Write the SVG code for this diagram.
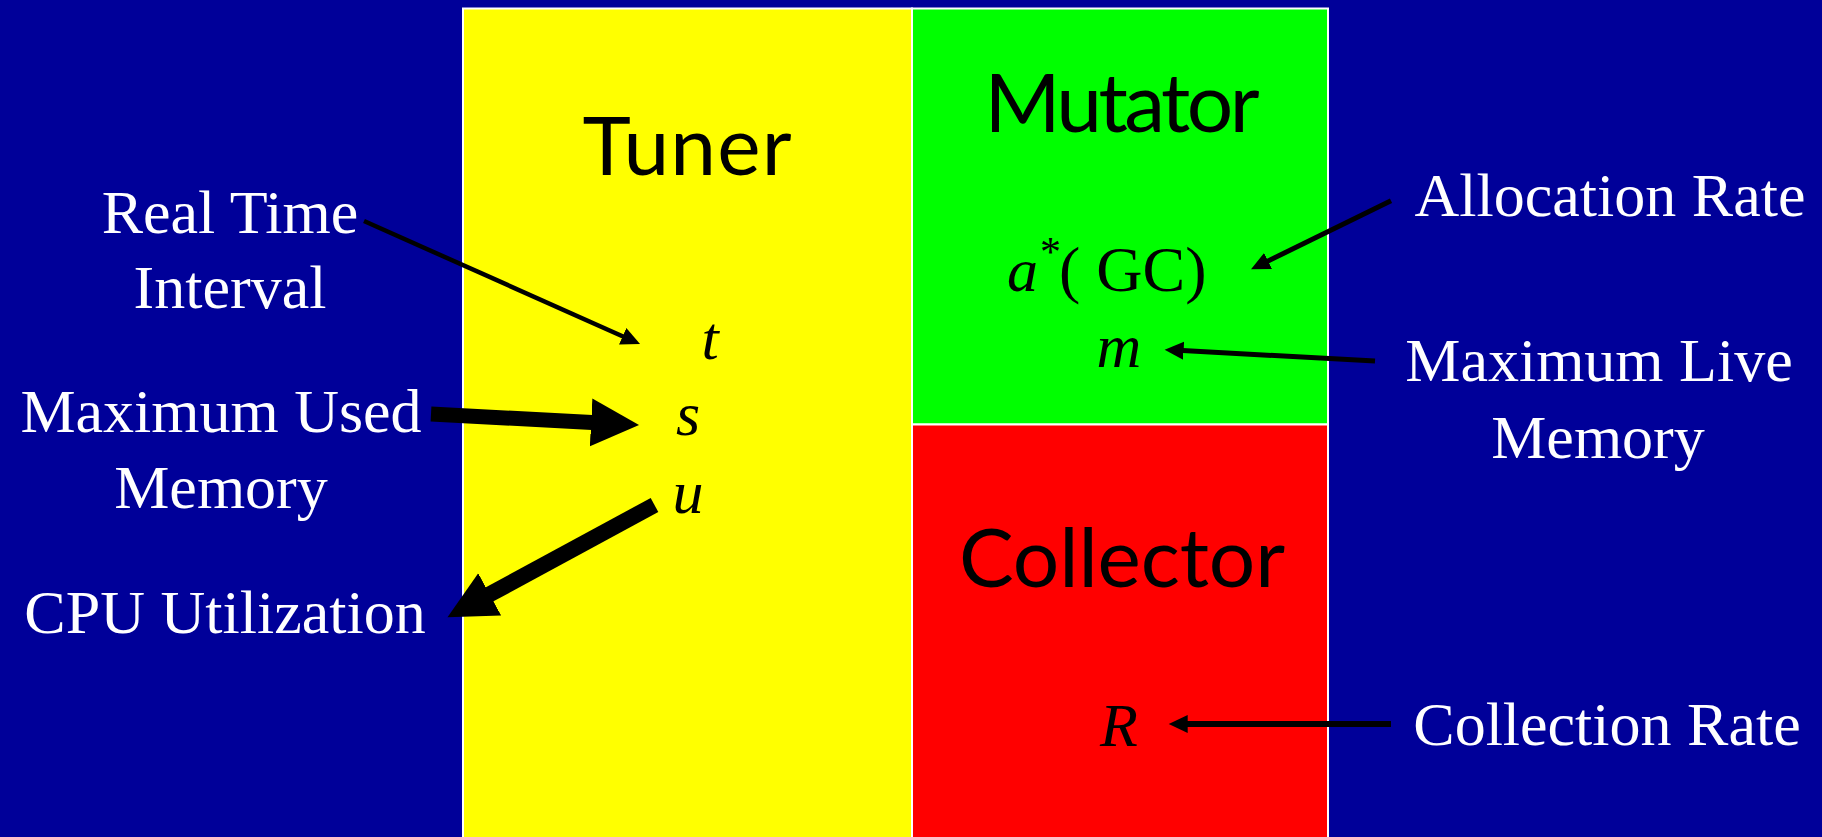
<svg xmlns="http://www.w3.org/2000/svg" width="1822" height="837" viewBox="0 0 1822 837">
<style>
.box{stroke:#FFFFFF;stroke-width:2}
.title{font-family:Lato,"Open Sans","DejaVu Sans",sans-serif;font-size:82px;fill:#000000;text-anchor:middle}
.lbl{font-family:"Liberation Serif","Times New Roman",serif;font-size:62px;fill:#FFFFFF;text-anchor:middle}
.var{font-family:"Liberation Serif","Times New Roman",serif;font-size:62px;fill:#000000;font-style:italic;text-anchor:middle}
.up{font-style:normal}
.conn{stroke:#000000;fill:none}
</style>
<defs>
<marker id="thin" markerUnits="userSpaceOnUse" markerWidth="22" markerHeight="22" refX="1" refY="9" orient="auto"><path d="M0,0 L19,9 L0,18 z" fill="#000000"/></marker>
<marker id="thick" markerUnits="userSpaceOnUse" markerWidth="52" markerHeight="52" refX="1" refY="24" orient="auto"><path d="M0,0 L48,24 L0,48 z" fill="#000000"/></marker>
</defs>
<rect x="0" y="0" width="1822" height="837" fill="#000099"/>
<g id="tuner">
<rect class="box" x="463" y="8.5" width="449" height="840" fill="#FFFF00"/>
<text class="title" x="687" y="175" textLength="209">Tuner</text>
<text class="var" x="710" y="359">t</text>
<text class="var" x="688" y="435">s</text>
<text class="var" x="688" y="513">u</text>
</g>
<g id="mutator">
<rect class="box" x="912" y="8.5" width="416" height="416" fill="#00FF00"/>
<text class="title" x="1122" y="132" textLength="275">Mutator</text>
<text class="var" x="1007" y="291" style="text-anchor:start">a<tspan font-size="42" dy="-25">*</tspan><tspan class="up" dy="25" font-size="64">( GC)</tspan></text>
<text class="var" x="1119" y="367">m</text>
</g>
<g id="collector">
<rect class="box" x="912" y="424.5" width="416" height="420" fill="#FF0000"/>
<text class="title" x="1122" y="587" textLength="326">Collector</text>
<text class="var" x="1119" y="746">R</text>
</g>
<g id="labels">
<text class="lbl" x="230" y="233">Real Time</text>
<text class="lbl" x="230" y="308">Interval</text>
<text class="lbl" x="221" y="432">Maximum Used</text>
<text class="lbl" x="221" y="508">Memory</text>
<text class="lbl" x="225" y="633">CPU Utilization</text>
<text class="lbl" x="1610" y="216">Allocation Rate</text>
<text class="lbl" x="1599" y="381">Maximum Live</text>
<text class="lbl" x="1598" y="458">Memory</text>
<text class="lbl" x="1607" y="745">Collection Rate</text>
</g>
<g id="connectors">
<line class="conn" x1="364" y1="221" x2="623.6" y2="336.7" stroke-width="4.5" marker-end="url(#thin)"/>
<line class="conn" x1="431" y1="414" x2="592.1" y2="422.5" stroke-width="15" marker-end="url(#thick)"/>
<line class="conn" x1="654.5" y1="505" x2="488.8" y2="594.8" stroke-width="16" marker-end="url(#thick)"/>
<line class="conn" x1="1391" y1="200.7" x2="1267.2" y2="261.4" stroke-width="5" marker-end="url(#thin)"/>
<line class="conn" x1="1375" y1="361" x2="1182.6" y2="350.6" stroke-width="5" marker-end="url(#thin)"/>
<line class="conn" x1="1391" y1="724" x2="1186.7" y2="724" stroke-width="6" marker-end="url(#thin)"/>
</g>
</svg>
